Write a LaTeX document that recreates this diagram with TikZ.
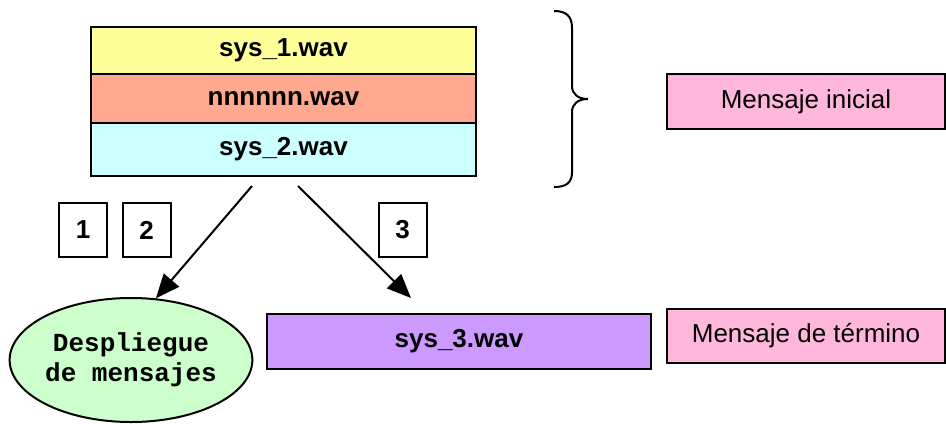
\documentclass[tikz,border=0pt]{standalone}
\usepackage{fontspec}
\setmainfont{Liberation Sans}
\newfontfamily\monofam{Liberation Mono}
\usetikzlibrary{arrows.meta,shapes.geometric}
\definecolor{cyellow}{HTML}{FFFF99}
\definecolor{csalmon}{HTML}{FFA890}
\definecolor{ccyan}{HTML}{CCFFFF}
\definecolor{cpink}{HTML}{FFB8DC}
\definecolor{cpurple}{HTML}{CC99FF}
\definecolor{cgreen}{HTML}{CCFFCC}
\tikzset{
  box/.style={draw=black, line width=1.2pt, inner sep=0pt, font=\fontsize{13}{15}\selectfont},
  bbox/.style={box, font=\fontsize{13}{15}\selectfont\bfseries},
  numbox/.style={draw=black, line width=1pt, inner sep=0pt, minimum width=24pt, minimum height=27pt, font=\fontsize{13}{15}\selectfont\bfseries},
  conn/.style={line width=1pt, -{Triangle[length=12pt,width=10pt]}},
}
\begin{document}
\begin{tikzpicture}[x=0.5pt,y=-0.5pt]
\useasboundingbox (0,0) rectangle (946,423);
% stack
\node[bbox, fill=cyellow, minimum width=192.5pt, minimum height=23.5pt] (r1) at (283.5,50.5) {sys\_1.wav};
\node[bbox, fill=csalmon, minimum width=192.5pt, minimum height=24.5pt] (r2) at (283.5,98.5) {nnnnnn.wav};
\node[bbox, fill=ccyan, minimum width=192.5pt, minimum height=26.5pt] (r3) at (283.5,149.5) {sys\_2.wav};
% brace
\draw[line width=1pt] (554,11) .. controls (566,11) and (572,16) .. (572,28)
  -- (572,86) .. controls (572,94) and (578,99) .. (588,99)
  .. controls (578,99) and (572,104) .. (572,112)
  -- (572,172) .. controls (572,183) and (566,187) .. (554,187);
% right labels
\node[box, fill=cpink, minimum width=139pt, minimum height=27.5pt] (ini) at (806,101.5) {Mensaje inicial};
\node[box, fill=cpink, minimum width=139pt, minimum height=27pt] (ter) at (806,336) {Mensaje de término};
% sys_3
\node[bbox, fill=cpurple, minimum width=192pt, minimum height=27.5pt] (s3) at (459,341.5) {sys\_3.wav};
% ellipse
\node[ellipse, draw=black, line width=1pt, fill=cgreen, inner sep=0pt, minimum width=121pt, minimum height=62pt,
  align=center, font=\monofam\fontsize{13}{15}\selectfont\bfseries] (ell) at (131,360) {Despliegue\\de mensajes};
% number boxes
\node[numbox] (n1) at (83,230) {1};
\node[numbox] (n2) at (146.5,230) {2};
\node[numbox] (n3) at (402.5,230) {3};
% arrows
\coordinate (a1) at (252,186);
\coordinate (a2) at (298,186);
\coordinate (t2) at (411,298);
\draw[conn] (a1) -- (ell.68);
\draw[conn] (a2) -- (t2);
\end{tikzpicture}
\end{document}
